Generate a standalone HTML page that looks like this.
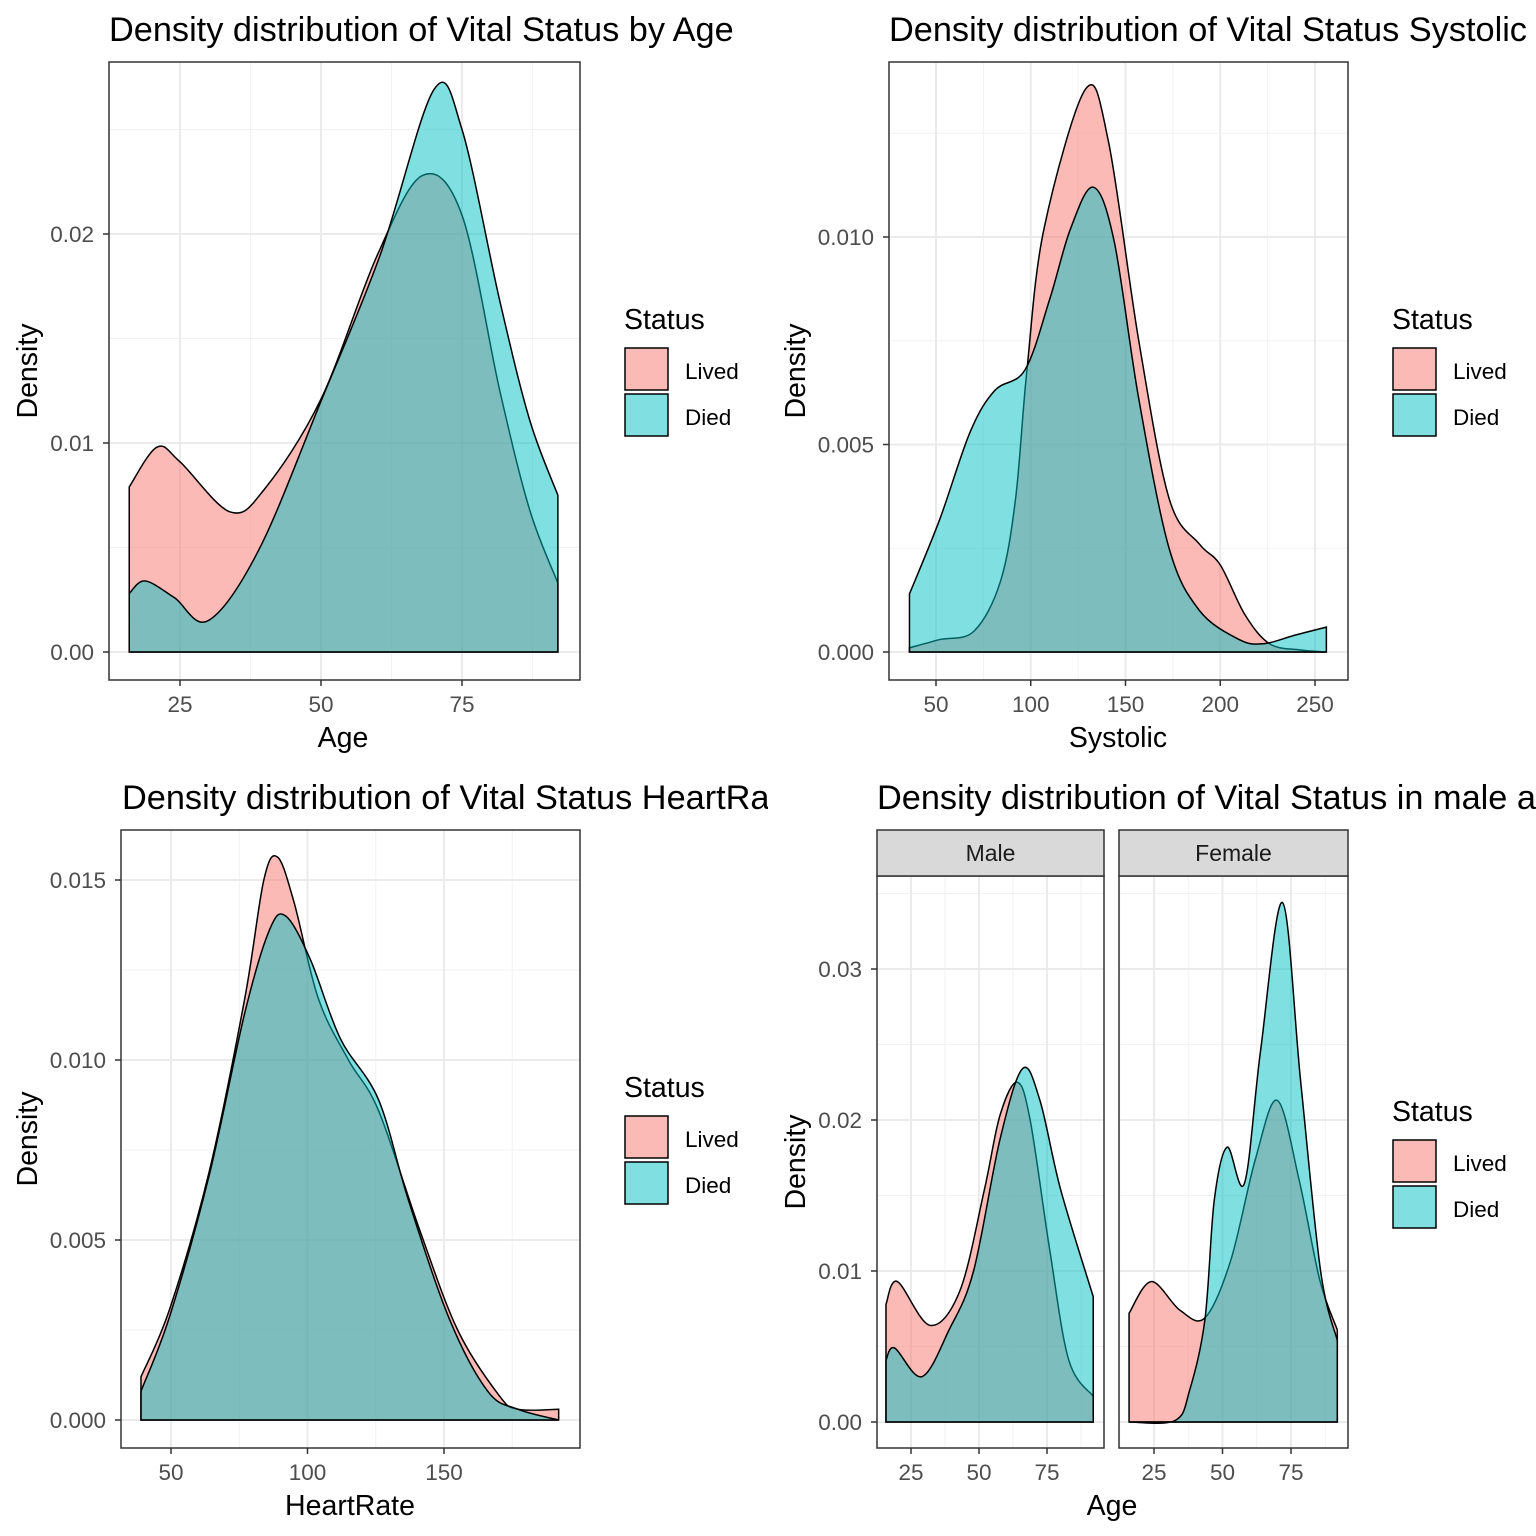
<!DOCTYPE html>
<html><head><meta charset="utf-8"><style>
html,body{margin:0;padding:0;background:#fff;}
svg{display:block;font-family:"Liberation Sans",Arial,sans-serif;}
</style></head><body>
<svg id="c" width="1536" height="1536" viewBox="0 0 1536 1536">
<defs><clipPath id="cl3"><rect x="0" y="760" width="768" height="80"/></clipPath></defs>
</svg>
<script>
// ---- data ----
const ageLivedX = [16,20.9,25,33.9,40,50,60,68,75,81.7,87,92];
const ageLivedY = [0.0079,0.0098,0.0091,0.0067,0.0078,0.0121,0.0190,0.0228,0.0209,0.0125,0.0068,0.0033];
const ageDiedX = [16,18.8,24,30,39,50,60.5,70,75,81.7,87,92];
const ageDiedY = [0.0028,0.0034,0.0026,0.0015,0.0049,0.0120,0.0190,0.0269,0.0250,0.0168,0.0111,0.0075];
const sysLivedX = [36,52,70,84,92,98,107,129,141,157,173,189,200,213,226,242,256];
const sysLivedY = [0.0001,0.0003,0.0005,0.0017,0.0037,0.0068,0.0102,0.01357,0.0123,0.0075,0.0037,0.0026,0.0021,0.0009,0.0002,0.00005,0.0];
const sysDiedX = [36,52,68,81,97,110,121,133,144,157,173,189,210,223,239,256];
const sysDiedY = [0.0014,0.0032,0.0053,0.0063,0.0068,0.0085,0.0102,0.0112,0.0099,0.0061,0.0025,0.0010,0.0003,0.0002,0.0004,0.0006];
const hrLivedX = [39,49.6,64,77,84,89,95,104,115,126,141,155,170,177,192];
const hrLivedY = [0.0012,0.0031,0.0069,0.0117,0.0150,0.01564,0.0144,0.0117,0.0100,0.0086,0.0053,0.0025,0.0007,0.0003,0.0003];
const hrDiedX = [39,49.6,64,77,86,92,101,112,126,137,152,166,177,192];
const hrDiedY = [0.0008,0.0029,0.0068,0.0113,0.0136,0.0140,0.0128,0.0106,0.0089,0.0061,0.0028,0.0008,0.0003,0.0];
const mLivedX = [15.8,20,32,43,52,57.7,64,68.8,76,83,92];
const mLivedY = [0.0078,0.0093,0.0064,0.0087,0.0154,0.0203,0.0225,0.0200,0.0114,0.0041,0.0017];
const mDiedX = [15.8,19,29,39,48,57.7,66,72.4,80,92];
const mDiedY = [0.0041,0.0049,0.0030,0.0061,0.0100,0.0187,0.0234,0.0213,0.0154,0.0083];
const fLivedX = [15.9,24,34.5,43.6,53,62,70,78,85.5,91.9];
const fLivedY = [0.0072,0.0093,0.0074,0.0069,0.0107,0.0174,0.0213,0.0160,0.0094,0.0061];
const fDiedX = [15.9,32.7,38,43.6,47,51.7,58,63.9,71.9,78.5,85.8,91.9];
const fDiedY = [0.0,0.0001,0.0021,0.0068,0.0147,0.0182,0.0158,0.0246,0.0344,0.0226,0.0100,0.0054];
const ageTicks = [25,50,75];
const sysTicks = [50,100,150,200,250];
const hrTicks = [50,100,150];
const ageYTicks = [0,0.01,0.02];
const sysYTicks = [0,0.005,0.010];
const hrYTicks = [0,0.005,0.010,0.015];
const sexYTicks = [0,0.01,0.02,0.03];
const statusLabels = ["Lived","Died"];

const NS="http://www.w3.org/2000/svg";
const svg=document.getElementById('c');
function mk(tag,attrs,parent){const e=document.createElementNS(NS,tag);for(const k in attrs)e.setAttribute(k,attrs[k]);(parent||svg).appendChild(e);return e;}
function fmt(v,d){return v.toFixed(d);}

function path(xs,ys,sx,sy){
  const p=xs.map((x,i)=>[sx(x),sy(ys[i])]);
  let d=`M${p[0][0]},${sy(0)}L${p[0][0]},${p[0][1]}`;
  for(let i=0;i<p.length-1;i++){
    const p0=p[i-1]||p[i],p1=p[i],p2=p[i+1],p3=p[i+2]||p2;
    const c1=[p1[0]+(p2[0]-p0[0])/6,p1[1]+(p2[1]-p0[1])/6];
    const c2=[p2[0]-(p3[0]-p1[0])/6,p2[1]-(p3[1]-p1[1])/6];
    d+=`C${c1[0]},${c1[1]} ${c2[0]},${c2[1]} ${p2[0]},${p2[1]}`;
  }
  d+=`L${p[p.length-1][0]},${sy(0)}Z`;
  return d;
}

function panel(o){
  const g=mk('g',{});
  
  
  const sx=v=>o.xp0+(v-o.xv0)*o.xk;
  const sy=v=>o.y0-v*o.yk;
  const {L,R,T,B}=o;
  mk('rect',{x:L,y:T,width:R-L,height:B-T,fill:'#fff'},g);
  const xt=o.xt, yt=o.yt;
  const dx=xt[1]-xt[0], dy=yt[1]-yt[0];
  for(let v=xt[0]-dx*3;v<=xt[xt.length-1]+dx*3;v+=dx){
    const m=sx(v+dx/2); if(m>L&&m<R) mk('line',{x1:m,x2:m,y1:T,y2:B,stroke:'#F2F2F2','stroke-width':1},g);
  }
  for(let v=yt[0]-dy*3;v<=yt[yt.length-1]+dy*3;v+=dy){
    const m=sy(v+dy/2); if(m>T&&m<B) mk('line',{x1:L,x2:R,y1:m,y2:m,stroke:'#F2F2F2','stroke-width':1},g);
  }
  xt.forEach(v=>mk('line',{x1:sx(v),x2:sx(v),y1:T,y2:B,stroke:'#EBEBEB','stroke-width':2},g));
  yt.forEach(v=>mk('line',{x1:L,x2:R,y1:sy(v),y2:sy(v),stroke:'#EBEBEB','stroke-width':2},g));
  o.series.forEach(s=>{
    const p=mk('path',{d:path(s.x,s.y,sx,sy),fill:s.c,'fill-opacity':0.5,stroke:'#000','stroke-width':1.5},g);
    
    
  });
  mk('rect',{x:L,y:T,width:R-L,height:B-T,fill:'none',stroke:'#333','stroke-width':1.5},g);
  if(o.showY){
    yt.forEach(v=>{
      mk('line',{x1:L-6,x2:L,y1:sy(v),y2:sy(v),stroke:'#333','stroke-width':1.5},g);
      const t=mk('text',{x:L-15,y:sy(v)+8,'text-anchor':'end','font-size':22.5,fill:'#4D4D4D'},g);
      t.textContent=fmt(v,o.yd);
      
      
    });
  }
  xt.forEach(v=>{
    mk('line',{x1:sx(v),x2:sx(v),y1:B,y2:B+6,stroke:'#333','stroke-width':1.5},g);
    const t=mk('text',{x:sx(v),y:B+32,'text-anchor':'middle','font-size':22.5,fill:'#4D4D4D'},g);
    t.textContent=String(v);
    
    
  });
  if(o.strip){
    mk('rect',{x:L,y:T-46,width:R-L,height:46,fill:'#D9D9D9',stroke:'#333','stroke-width':1.5},g);
    const t=mk('text',{x:(L+R)/2,y:T-15,'text-anchor':'middle','font-size':23,fill:'#1A1A1A'},g);
    t.textContent=o.strip;
    
    
  }
}
function text(x,y,s,size,name,anchor,rot,clip){
  const a={x:x,y:y,'font-size':size,fill:'#000','text-anchor':anchor||'start'};
  if(rot) a.transform=`rotate(-90 ${x} ${y})`;
  if(clip) a['clip-path']=clip;
  const t=mk('text',a);t.textContent=s;
  
  
}
function legend(x,y,name){
  const g=mk('g',{});
  
  
  const t=mk('text',{x:x,y:y,'font-size':28.5,fill:'#000'},g);t.textContent='Status';
  const cols=['#F8766D','#00BFC4'];
  statusLabels.forEach((l,i)=>{
    const r=mk('rect',{x:x+1,y:y+19+i*46,width:43,height:42,fill:cols[i],'fill-opacity':0.5,stroke:'#000','stroke-width':1.5},g);
    
    
    const tt=mk('text',{x:x+61,y:y+50+i*46,'font-size':22.5,fill:'#000'},g);tt.textContent=l;
    
    
  });
}
const RED='#F8766D',CY='#00BFC4';

panel({name:'age-panel',L:109,R:580,T:62,B:680,xv0:25,xp0:180,xk:5.64,y0:652,yk:20900,xt:ageTicks,yt:ageYTicks,yd:2,showY:true,
  series:[{x:ageLivedX,y:ageLivedY,c:RED,n:'age-lived-density'},{x:ageDiedX,y:ageDiedY,c:CY,n:'age-died-density'}]});
panel({name:'systolic-panel',L:889,R:1348,T:62,B:680,xv0:50,xp0:936,xk:1.895,y0:652,yk:41500,xt:sysTicks,yt:sysYTicks,yd:3,showY:true,
  series:[{x:sysLivedX,y:sysLivedY,c:RED,n:'systolic-lived-density'},{x:sysDiedX,y:sysDiedY,c:CY,n:'systolic-died-density'}]});
panel({name:'heartrate-panel',L:121,R:580,T:830,B:1448,xv0:50,xp0:171,xk:2.73,y0:1420,yk:36000,xt:hrTicks,yt:hrYTicks,yd:3,showY:true,
  series:[{x:hrLivedX,y:hrLivedY,c:RED,n:'heartrate-lived-density'},{x:hrDiedX,y:hrDiedY,c:CY,n:'heartrate-died-density'}]});
panel({name:'male-facet',L:877,R:1104,T:876,B:1448,xv0:25,xp0:911,xk:2.72,y0:1422,yk:15100,xt:ageTicks,yt:sexYTicks,yd:2,showY:true,strip:'Male',
  series:[{x:mLivedX,y:mLivedY,c:RED,n:'male-lived-density'},{x:mDiedX,y:mDiedY,c:CY,n:'male-died-density'}]});
panel({name:'female-facet',L:1119,R:1348,T:876,B:1448,xv0:25,xp0:1154,xk:2.74,y0:1422,yk:15100,xt:ageTicks,yt:sexYTicks,yd:2,showY:false,strip:'Female',
  series:[{x:fLivedX,y:fLivedY,c:RED,n:'female-lived-density'},{x:fDiedX,y:fDiedY,c:CY,n:'female-died-density'}]});

text(109,41,'Density distribution of Vital Status by Age',34.3,'age-title');
text(889,41,'Density distribution of Vital Status Systolic Pressure',34.3,'systolic-title');
text(122,809,'Density distribution of Vital Status HeartRate',34.3,'heartrate-title','start',false,'url(#cl3)');
text(877,809,'Density distribution of Vital Status in male and female',34.3,'sex-title');
text(343,747,'Age',28.5,'age-x-title','middle');
text(1118,747,'Systolic',28.5,'systolic-x-title','middle');
text(350,1515,'HeartRate',28.5,'heartrate-x-title','middle');
text(1112,1515,'Age',28.5,'sex-x-title','middle');
text(37,371,'Density',28.5,'age-y-title','middle',true);
text(805,371,'Density',28.5,'systolic-y-title','middle',true);
text(37,1139,'Density',28.5,'heartrate-y-title','middle',true);
text(805,1162,'Density',28.5,'sex-y-title','middle',true);
legend(624,329,'age-legend');
legend(1392,329,'systolic-legend');
legend(624,1097,'heartrate-legend');
legend(1392,1121,'sex-legend');
</script>
</body></html>
